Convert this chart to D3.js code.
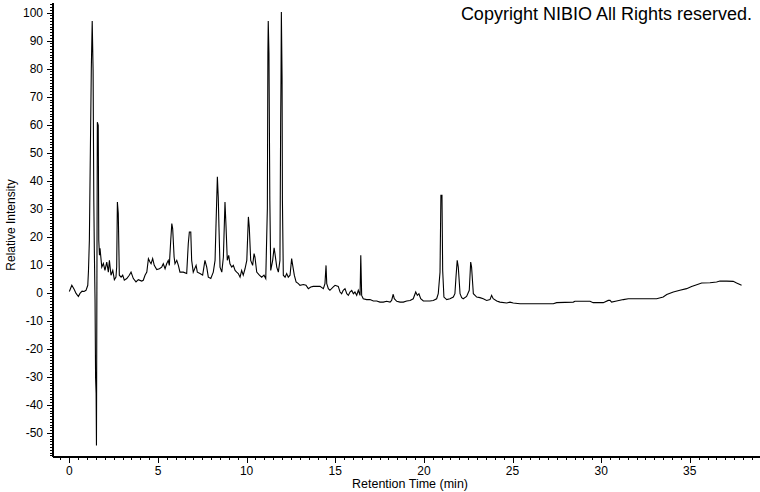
<!DOCTYPE html>
<html>
<head>
<meta charset="utf-8">
<script src="https://cdn.jsdelivr.net/npm/d3@7"></script>
<style>
  html, body { margin: 0; padding: 0; background: #fff; }
  svg { display: block; }
</style>
</head>
<body>
<div id="chart"></div>
<script>
// Chromatogram trace: retention time (min) and relative intensity.
const retentionTime = [
  0.00, 0.14, 0.27, 0.38, 0.51, 0.60, 0.72, 0.83, 0.94, 1.04,
  1.08, 1.13, 1.18, 1.24, 1.29, 1.34, 1.38, 1.41, 1.45, 1.48,
  1.51, 1.53, 1.58, 1.63, 1.66, 1.70, 1.73, 1.83, 1.92, 2.01,
  2.11, 2.20, 2.26, 2.35, 2.45, 2.54, 2.63, 2.67, 2.71, 2.76,
  2.82, 2.92, 3.01, 3.10, 3.24, 3.38, 3.48, 3.61, 3.76, 3.89,
  4.08, 4.17, 4.27, 4.37, 4.46, 4.55, 4.61, 4.70, 4.79, 4.93,
  5.08, 5.21, 5.30, 5.40, 5.49, 5.58, 5.64, 5.72, 5.78, 5.83,
  5.91, 5.96, 6.06, 6.15, 6.24, 6.43, 6.62, 6.71, 6.77, 6.85,
  6.90, 6.99, 7.15, 7.22, 7.37, 7.52, 7.65, 7.75, 7.84, 7.98,
  8.12, 8.22, 8.27, 8.35, 8.40, 8.44, 8.50, 8.60, 8.69, 8.78,
  8.84, 8.91, 8.99, 9.06, 9.16, 9.25, 9.35, 9.44, 9.53, 9.63,
  9.72, 9.81, 9.91, 10.01, 10.10, 10.15, 10.23, 10.34, 10.42, 10.47,
  10.57, 10.72, 10.85, 10.98, 11.08, 11.17, 11.20, 11.22, 11.26, 11.31,
  11.36, 11.47, 11.55, 11.60, 11.70, 11.79, 11.88, 11.92, 11.94, 11.96,
  12.00, 12.02, 12.07, 12.17, 12.26, 12.35, 12.45, 12.54, 12.60, 12.69,
  12.79, 12.92, 13.01, 13.20, 13.35, 13.48, 13.62, 13.76, 13.95, 14.14,
  14.33, 14.42, 14.48, 14.52, 14.61, 14.70, 14.89, 14.99, 15.17, 15.27,
  15.36, 15.45, 15.55, 15.65, 15.74, 15.83, 15.93, 16.02, 16.11, 16.21,
  16.30, 16.40, 16.44, 16.49, 16.58, 16.77, 16.96, 17.15, 17.34, 17.52,
  17.71, 17.90, 18.09, 18.18, 18.27, 18.33, 18.47, 18.65, 18.84, 19.03,
  19.22, 19.40, 19.54, 19.63, 19.72, 19.82, 19.97, 20.16, 20.34, 20.53,
  20.72, 20.81, 20.91, 20.96, 21.02, 21.06, 21.13, 21.29, 21.47, 21.66,
  21.75, 21.81, 21.88, 21.94, 22.04, 22.13, 22.22, 22.41, 22.56, 22.64,
  22.69, 22.79, 22.98, 23.16, 23.35, 23.54, 23.73, 23.82, 23.91, 24.11,
  24.29, 24.67, 24.86, 25.04, 25.42, 25.80, 26.36, 27.30, 27.49, 28.43,
  28.52, 29.37, 29.55, 30.12, 30.40, 30.50, 30.59, 30.87, 31.25, 31.53,
  33.13, 33.50, 33.70, 34.07, 34.44, 34.82, 35.10, 35.39, 35.67, 36.14,
  36.51, 36.70, 37.08, 37.45, 37.64, 37.92
];
const intensity = [
  0.5, 2.7, 1.3, -0.2, -1.3, -0.2, 0.6, 0.5, 0.9, 2.7,
  8.0, 18.8, 47.3, 80.2, 97.0, 79.5, 33.0, 15.2, -2.7, -30.2,
  -35.9, -54.5, 60.9, 59.8, 18.8, 13.4, 15.9, 9.2, 10.5, 8.0,
  11.0, 7.4, 11.6, 6.3, 8.0, 4.7, 5.6, 9.2, 32.4, 28.4,
  6.3, 5.6, 6.3, 4.5, 5.1, 6.3, 7.4, 5.1, 3.9, 4.7,
  4.2, 4.5, 6.3, 7.4, 12.2, 11.0, 10.4, 12.2, 9.8, 8.3,
  8.6, 9.2, 10.4, 8.6, 10.4, 11.6, 9.8, 18.8, 24.7, 22.9,
  12.8, 10.4, 11.6, 9.8, 7.4, 7.4, 6.9, 17.6, 21.7, 21.7,
  11.6, 7.4, 9.8, 7.4, 6.9, 6.3, 11.6, 9.2, 5.6, 5.1,
  7.4, 11.6, 23.5, 41.4, 34.2, 23.5, 9.2, 7.4, 12.8, 32.4,
  23.5, 11.6, 13.4, 10.4, 9.2, 9.8, 8.0, 7.4, 6.9, 5.6,
  8.0, 6.3, 8.6, 11.6, 27.1, 23.5, 11.6, 9.8, 14.0, 12.8,
  7.4, 6.3, 5.6, 6.3, 5.1, 30.1, 85.6, 97.0, 85.5, 33.0,
  8.0, 11.6, 16.1, 14.0, 9.2, 7.4, 11.6, 60.9, 76.6, 100.2,
  76.6, 33.0, 6.3, 5.6, 6.9, 5.6, 6.3, 12.2, 9.8, 6.3,
  3.9, 3.3, 2.7, 3.0, 2.7, 1.5, 2.1, 2.3, 2.3, 2.3,
  1.5, 3.3, 9.8, 3.3, 1.5, 0.9, 2.1, 2.7, 2.3, 0.3,
  -0.3, 0.9, 1.5, -0.3, -0.9, 0.3, 0.9, -0.3, 0.3, -0.9,
  0.9, -0.9, 13.4, -0.9, -2.1, -2.4, -2.4, -2.9, -2.9, -3.3,
  -3.3, -3.0, -3.3, -2.7, -0.5, -2.1, -3.0, -3.3, -3.3, -2.9,
  -2.7, -2.1, 0.3, -0.9, -0.3, -2.1, -2.9, -2.9, -2.9, -2.7,
  -2.1, -0.3, 7.4, 34.8, 34.8, 8.0, -1.5, -2.4, -2.1, -1.5,
  -0.3, 5.6, 11.6, 9.2, -0.3, -1.7, -2.1, -1.3, 0.9, 11.0,
  9.2, -0.3, -1.5, -1.7, -2.1, -2.7, -2.4, -0.9, -2.1, -2.9,
  -3.3, -3.6, -3.3, -3.6, -3.9, -3.9, -3.9, -3.9, -3.5, -3.3,
  -3.0, -3.0, -3.5, -3.5, -2.7, -2.7, -3.3, -2.9, -2.4, -2.1,
  -2.1, -1.5, -0.6, 0.3, 0.9, 1.5, 2.3, 2.9, 3.5, 3.6,
  3.9, 4.2, 4.2, 4.1, 3.5, 2.7
];

// Labelled ticks on each axis.
const xTickLabels = [0, 5, 10, 15, 20, 25, 30, 35];
const yTickLabels = [-50, -40, -30, -20, -10, 0, 10, 20, 30, 40, 50, 60, 70, 80, 90, 100];

const width = 760;
const height = 492;
const FONT = "'Liberation Sans', Arial, sans-serif";

const svg = d3.select("#chart")
  .append("svg")
  .attr("width", width)
  .attr("height", height);

// Scales: the axis box runs from x=52.5 to the right edge, y=2 to y=456.5
const x = d3.scaleLinear().domain([-0.95, 38.96]).range([52.5, 760]);
const y = d3.scaleLinear().domain([-58.4, 103.8]).range([456.5, 2]);

// X axis: minor ticks every 0.5 min, longer ones at the labelled values
const xMinor = d3.range(-0.5, 39, 0.5);
const xAxis = svg.append("g")
  .attr("transform", `translate(0,${y.range()[0]})`)
  .call(d3.axisBottom(x)
    .tickValues(xMinor)
    .tickSize(3)
    .tickSizeOuter(0)
    .tickFormat(""));
xAxis.selectAll(".tick line")
  .filter(d => xTickLabels.includes(d))
  .attr("y2", 6);
xAxis.select(".domain").attr("stroke-width", 1.4);
xAxis.attr("shape-rendering", "crispEdges");

svg.append("g")
  .selectAll("text")
  .data(xTickLabels)
  .join("text")
  .attr("x", d => x(d))
  .attr("y", 475)
  .attr("text-anchor", "middle")
  .attr("font-family", FONT)
  .attr("font-size", 12)
  .text(d => d);

// Y axis: minor tick per unit, longer ones every 10
const yMinor = d3.range(-58, 104, 1);
const yAxis = svg.append("g")
  .attr("transform", `translate(${x.range()[0]},0)`)
  .call(d3.axisLeft(y)
    .tickValues(yMinor)
    .tickSize(3)
    .tickSizeOuter(0)
    .tickFormat(""));
yAxis.selectAll(".tick line")
  .filter(d => yTickLabels.includes(d))
  .attr("x2", -6);
yAxis.select(".domain").attr("stroke-width", 1.4);
yAxis.attr("shape-rendering", "crispEdges");

svg.append("g")
  .selectAll("text")
  .data(yTickLabels)
  .join("text")
  .attr("x", 43)
  .attr("y", d => y(d))
  .attr("dy", "0.36em")
  .attr("text-anchor", "end")
  .attr("font-family", FONT)
  .attr("font-size", 12)
  .text(d => d);

// Axis titles
svg.append("text")
  .attr("transform", "translate(15,225) rotate(-90)")
  .attr("text-anchor", "middle")
  .attr("font-family", FONT)
  .attr("font-size", 12)
  .text("Relative Intensity");

svg.append("text")
  .attr("x", 410)
  .attr("y", 488)
  .attr("text-anchor", "middle")
  .attr("font-family", FONT)
  .attr("font-size", 12.5)
  .text("Retention Time (min)");

// The trace itself
const points = retentionTime.map((t, i) => [t, intensity[i]]);
svg.append("path")
  .datum(points)
  .attr("fill", "none")
  .attr("stroke", "#000")
  .attr("stroke-width", 1.1)
  .attr("stroke-linejoin", "miter")
  .attr("d", d3.line().x(d => x(d[0])).y(d => y(d[1])));

// Copyright note in the top right corner
svg.append("text")
  .attr("x", 752)
  .attr("y", 20)
  .attr("text-anchor", "end")
  .attr("font-family", FONT)
  .attr("font-size", 18)
  .text("Copyright NIBIO All Rights reserved.");
</script>
</body>
</html>
